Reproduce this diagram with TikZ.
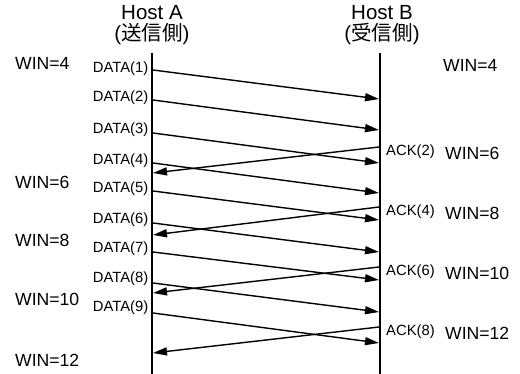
\documentclass[tikz,border=0pt]{standalone}
\usepackage{fontspec}
\setmainfont{Liberation Sans}
\newfontfamily\jpfont{Noto Sans CJK JP}
\usetikzlibrary{arrows.meta}
\begin{document}
\begin{tikzpicture}[x=1pt,y=-1pt,
  lifeline/.style={line width=2.6pt},
  msg/.style={line width=1.4pt,-{Triangle[length=14pt,width=8pt]}},
  host/.style={font=\fontsize{20.5}{21}\selectfont,align=center,inner sep=0pt},
  pktlabel/.style={font=\fontsize{14.8}{15}\selectfont,inner sep=0pt},
  winlabel/.style={font=\fontsize{17.6}{18}\selectfont,inner sep=0pt,anchor=west},
]
\useasboundingbox (0,0) rectangle (520,374);
\fill[white] (0,0) rectangle (520,374);

% hosts and their time lines
\node[host] (hostA) at (152,25) {Host A\\({\jpfont 送信側})};
\node[host] (hostB) at (382,25) {Host B\\({\jpfont 受信側})};
\coordinate (Atop) at (152,53);
\coordinate (Abot) at (152,374);
\coordinate (Btop) at (380,53);
\coordinate (Bbot) at (380,374);
\draw[lifeline] (Atop) -- (Abot);
\draw[lifeline] (Btop) -- (Bbot);

% data segments A -> B
\foreach \n/\ys/\ye/\yl in {1/70/99/69, 2/100/130/98, 3/133/163/130, 4/163/193/161,
                            5/191/220/189, 6/223/252/220, 7/252/280/249, 8/283/312/279, 9/313/343/308} {
  \coordinate (ds\n) at (153,\ys);
  \coordinate (de\n) at (379,\ye);
  \draw[msg] (ds\n) -- (de\n);
  \node[pktlabel,anchor=east] (dl\n) at (148.5,\yl) {DATA(\n)};
}

% acknowledgements B -> A
\foreach \n/\ys/\ye/\yl in {2/147/173/152, 4/207/235/212, 6/267/293/272, 8/327/353/332} {
  \coordinate (as\n) at (379,\ys);
  \coordinate (ae\n) at (153,\ye);
  \draw[msg] (as\n) -- (ae\n);
  \node[pktlabel,anchor=west] (al\n) at (386,\yl) {ACK(\n)};
}

% window sizes, sender side
\node[winlabel] (wa4)  at (15,63)  {WIN=4};
\node[winlabel] (wa6)  at (15,182) {WIN=6};
\node[winlabel] (wa8)  at (15,240) {WIN=8};
\node[winlabel] (wa10) at (15,299) {WIN=10};
\node[winlabel] (wa12) at (15,360) {WIN=12};

% window sizes, receiver side
\node[winlabel] (wb4)  at (443,65)  {WIN=4};
\node[winlabel] (wb6)  at (445,153) {WIN=6};
\node[winlabel] (wb8)  at (445,213) {WIN=8};
\node[winlabel] (wb10) at (445,273) {WIN=10};
\node[winlabel] (wb12) at (445,333) {WIN=12};
\end{tikzpicture}
\end{document}
